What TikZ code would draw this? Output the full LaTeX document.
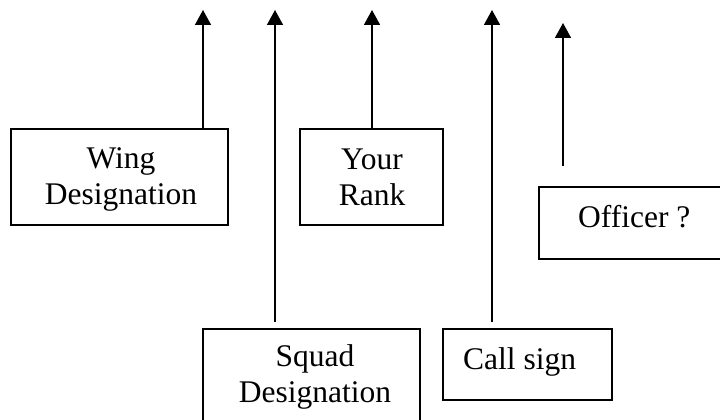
\documentclass[tikz,border=0pt]{standalone}
\usepackage{fontspec}
\setmainfont{Liberation Serif}
\usetikzlibrary{arrows.meta}
\newcommand\twolines[2]{\begin{tabular}[t]{@{}c@{}}#1\\#2\end{tabular}}
\begin{document}
\begin{tikzpicture}[x=1pt,y=-1pt,
  box/.style={draw=black, line width=1.6pt, rectangle, inner sep=0pt},
  lbl/.style={inner sep=0pt, font=\fontsize{31.5}{36}\selectfont},
  arr/.style={draw=black, line width=1.6pt, -{Triangle[length=15pt,width=16pt]}}]
\useasboundingbox (0,0) rectangle (720,420);
\clip (0,0) rectangle (720,420);
\fill[white] (0,0) rectangle (720,420);
% boxes
\node[box, minimum width=217pt, minimum height=96pt] (wing) at (119.5,177) {};
\node[box, minimum width=143pt, minimum height=96pt] (rank) at (371.5,177) {};
\node[box, minimum width=192pt, minimum height=72pt] (officer) at (635,223) {};
\node[box, minimum width=217pt, minimum height=104pt] (squad) at (311.5,381) {};
\node[box, minimum width=169pt, minimum height=71pt] (call) at (527.5,364.5) {};
% labels
\node[lbl, anchor=base] (wingt) at (121,168) {\twolines{Wing}{Designation}};
\node[lbl, anchor=base] (rankt) at (372,169) {\twolines{Your}{Rank}};
\node[lbl, anchor=base] (squadt) at (315,366) {\twolines{Squad}{Designation}};
\node[lbl, anchor=base west] (callt) at (463,369) {Call sign};
\node[lbl, anchor=base west] (officert) at (578,227) {Officer ?};
% arrow tips
\coordinate (t1) at (203,10);
\coordinate (t2) at (275,10);
\coordinate (t3) at (372,10);
\coordinate (t4) at (492,10);
\coordinate (t5) at (563,23);
\coordinate (s5) at (563,166);
% connectors
\draw[arr] (wing.north -| t1) -- (t1);
\draw[arr] ([yshift=6pt]squad.north -| t2) -- (t2);
\draw[arr] (rank.north -| t3) -- (t3);
\draw[arr] ([yshift=6pt]call.north -| t4) -- (t4);
\draw[arr] (s5) -- (t5);
\end{tikzpicture}
\end{document}
